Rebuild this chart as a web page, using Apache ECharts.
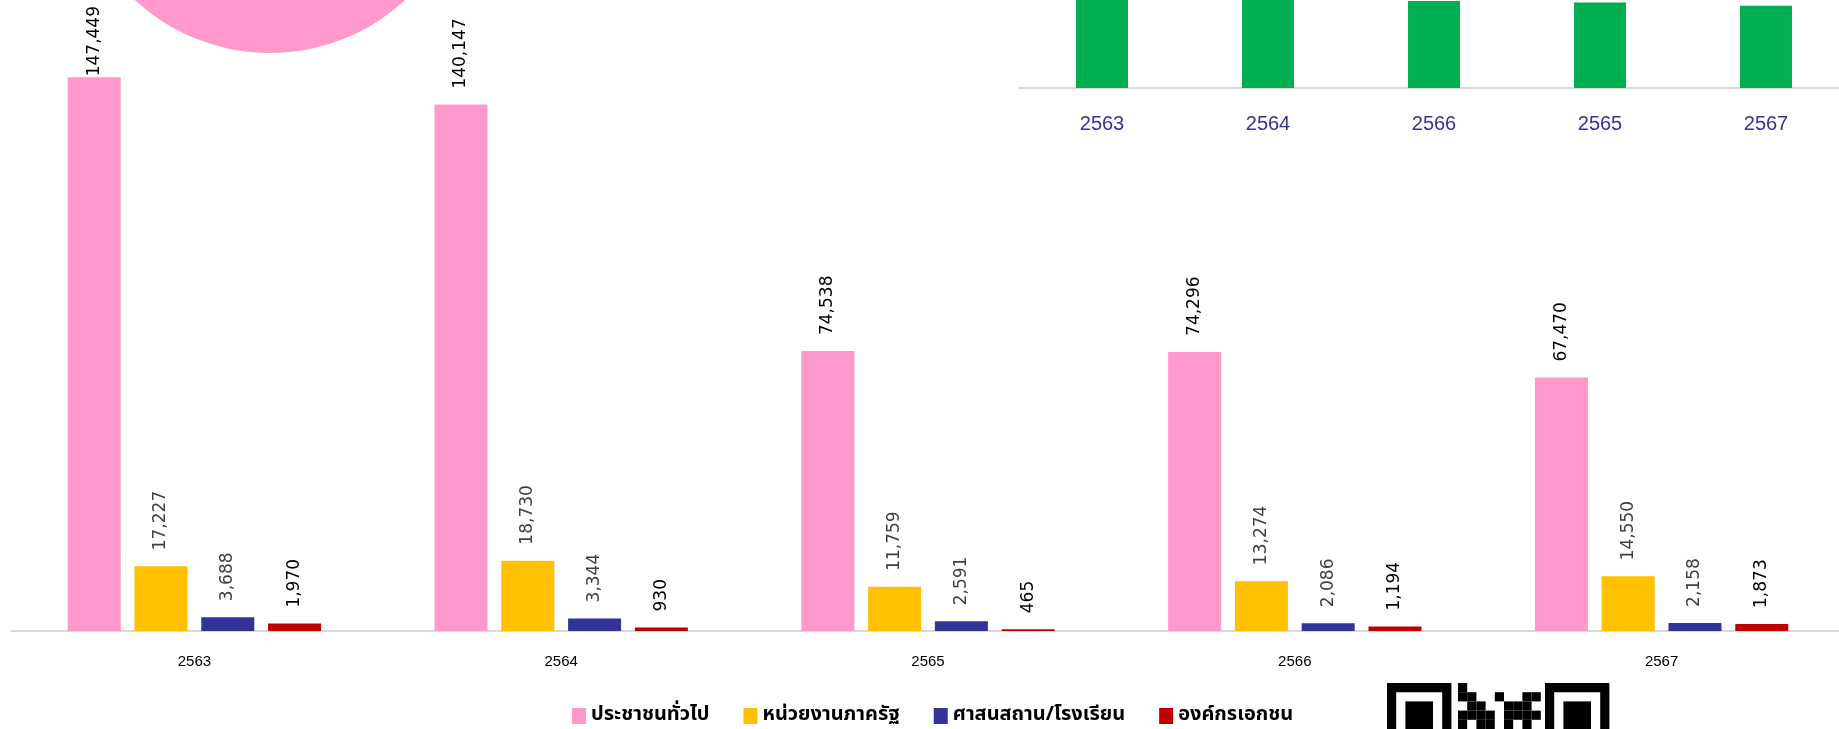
<!DOCTYPE html>
<html>
<head>
<meta charset="utf-8">
<title>chart</title>
<script src="https://cdn.jsdelivr.net/npm/echarts@6/dist/echarts.min.js"></script>
<style>
html,body{margin:0;padding:0;background:#fff;}
#mainChart{width:1839px;height:729px;}
</style>
</head>
<body>
<div id="mainChart"></div>
<script>
// ข้อมูลตามปี
var categories = ['2563', '2564', '2565', '2566', '2567'];
var seriesNames = ['ประชาชนทั่วไป', 'หน่วยงานภาครัฐ', 'ศาสนสถาน/โรงเรียน', 'องค์กรเอกชน'];
var publicData = [147449, 140147, 74538, 74296, 67470];
var govData = [17227, 18730, 11759, 13274, 14550];
var religiousData = [3688, 3344, 2591, 2086, 2158];
var privateData = [1970, 930, 465, 1194, 1873];

// กราฟเล็กมุมขวาบน (เรียงจากมากไปน้อย) ส่วนบนถูกตัดขอบ
var insetCategories = ['2563', '2564', '2566', '2565', '2567'];
var insetTotals = [170334, 163151, 90850, 89353, 86051];

var colors = ['#FF99CC', '#FFC000', '#333399', '#C00000'];
var labelColors = ['#000000', '#404040', '#404040', '#000000'];
var labelFont = '17px "DejaVu Sans"';
var labelDist = 16;

function fmt(p){
	return p.value.toLocaleString('en-US');
}

function barSeries(idx, data){
	return {
		name: seriesNames[idx],
		type: 'bar',
		xAxisIndex: 0,
		yAxisIndex: 0,
		barWidth: 53,
		barGap: '26%',
		data: data,
		itemStyle: { color: colors[idx] },
		label: {
			show: true,
			position: 'top',
			rotate: 90,
			align: 'left',
			verticalAlign: 'middle',
			distance: labelDist,
			fontFamily: 'DejaVu Sans',
			fontSize: 17,
			color: labelColors[idx],
			formatter: fmt
		}
	};
}

// QR code บางส่วนที่มุมล่าง
function qrGraphic(){
	var m = 9.2, x0 = 1387, y0 = 683;
	var els = [];
	function finder(x){
		els.push({ type: 'rect', shape: { x: x, y: y0, width: 7*m, height: 7*m }, style: { fill: '#000' } });
		els.push({ type: 'rect', shape: { x: x+m, y: y0+m, width: 5*m, height: 5*m }, style: { fill: '#fff' } });
		els.push({ type: 'rect', shape: { x: x+2*m, y: y0+2*m, width: 3*m, height: 3*m }, style: { fill: '#000' } });
	}
	finder(x0);
	finder(1545);
	var rows = [[0], [0,1,4,7,8], [1,2,5,6,7], [0,1,2,3,5,6,7,8], [0,2,3,5,7]];
	for(var r=0;r<rows.length;r++){
		for(var c=0;c<rows[r].length;c++){
			els.push({ type: 'rect', shape: { x: 1458 + rows[r][c]*m, y: y0 + r*m, width: m, height: m }, style: { fill: '#000' } });
		}
	}
	return els;
}

var charts = echarts.init(document.getElementById('mainChart'));
var option = {
	animation: false,
	backgroundColor: '#ffffff',
	graphic: [{
		type: 'circle',
		shape: { cx: 270, cy: -146, r: 199 },
		style: { fill: '#FF99CC' },
		z: 0
	}].concat(qrGraphic()),
	legend: {
		data: seriesNames,
		left: 572,
		top: 706,
		padding: 0,
		icon: 'rect',
		itemWidth: 14,
		itemHeight: 16,
		itemGap: 34,
		textStyle: {
			fontSize: 20,
			fontWeight: 'bold',
			color: '#000',
			fontFamily: 'Tahoma, "Noto Sans Thai", "Loma", sans-serif'
		}
	},
	grid: [
		{ left: 11, width: 1834, top: 30, bottom: 98, outerBoundsMode: 'none' },
		{ left: 1019, width: 830, top: 0, bottom: 641, outerBoundsMode: 'none' }
	],
	xAxis: [{
		type: 'category',
		gridIndex: 0,
		data: categories,
		axisLine: { lineStyle: { color: '#d9d9d9', width: 2 } },
		axisTick: { show: false },
		axisLabel: { fontSize: 15, color: '#000', margin: 23, fontFamily: 'Liberation Sans' }
	}, {
		type: 'category',
		gridIndex: 1,
		data: insetCategories,
		axisLine: { lineStyle: { color: '#d9d9d9', width: 2 } },
		axisTick: { show: false },
		axisLabel: { fontSize: 20, color: '#333399', margin: 26, fontFamily: 'Liberation Sans' }
	}],
	yAxis: [{
		type: 'value',
		gridIndex: 0,
		min: 0,
		max: 160000,
		show: false
	}, {
		type: 'value',
		gridIndex: 1,
		min: 0,
		max: 92000,
		show: false
	}],
	series: [
		barSeries(0, publicData),
		barSeries(1, govData),
		barSeries(2, religiousData),
		barSeries(3, privateData),
		{
			name: 'รวม',
			type: 'bar',
			xAxisIndex: 1,
			yAxisIndex: 1,
			barWidth: 52,
			clip: true,
			data: insetTotals,
			itemStyle: { color: '#00B050' }
		}
	]
};
charts.setOption(option);

// ป้ายตัวเลขที่ยาวเกินขอบบน ให้ขยับลงมาชิดแท่ง
var ctx = document.createElement('canvas').getContext('2d');
ctx.font = labelFont;
var pinkItems = publicData.map(function(v, i){
	var barTop = charts.convertToPixel({ seriesIndex: 0 }, [i, v])[1];
	var w = ctx.measureText(v.toLocaleString('en-US')).width;
	var top = barTop - labelDist - w;
	if(top < 6){
		return { value: v, label: { distance: barTop - 6 - w } };
	}
	return v;
});
charts.setOption({ series: [{ data: pinkItems }] });
</script>
</body>
</html>
